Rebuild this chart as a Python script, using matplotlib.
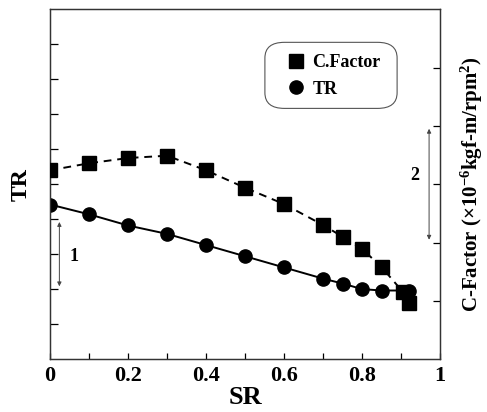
import matplotlib.pyplot as plt
from matplotlib.lines import Line2D
from matplotlib.patches import FancyBboxPatch

plt.rcParams['font.family'] = ['Liberation Serif', 'DejaVu Serif']
plt.rcParams['font.weight'] = 'bold'
plt.rcParams['mathtext.fontset'] = 'custom'
plt.rcParams['mathtext.rm'] = 'Liberation Serif:bold'
plt.rcParams['mathtext.it'] = 'Liberation Serif:bold'
plt.rcParams['mathtext.bf'] = 'Liberation Serif:bold'

# data
sr_tr = [0, 0.1, 0.2, 0.3, 0.4, 0.5, 0.6, 0.7, 0.75, 0.8, 0.85, 0.92]
tr = [2.21, 2.07, 1.91, 1.79, 1.63, 1.47, 1.31, 1.15, 1.08, 1.0, 0.98, 0.98]
sr_cf = [0, 0.1, 0.2, 0.3, 0.4, 0.5, 0.6, 0.7, 0.75, 0.8, 0.85, 0.905, 0.92]
cfactor = [3.24, 3.36, 3.45, 3.49, 3.24, 2.94, 2.66, 2.30, 2.10, 1.89, 1.58, 1.15, 0.96]
xtick_labels = ["0", "", "0.2", "", "0.4", "", "0.6", "", "0.8", "", "1"]

fig = plt.figure(figsize=(4.87, 4.12), dpi=100)
ax = fig.add_axes([0.1027, 0.1286, 0.8008, 0.8484])
ax2 = ax.twinx()

ax.plot(sr_tr, tr, "k-", lw=1.4, marker="o", ms=9.5, zorder=3)
ax2.plot(sr_cf, cfactor, "k", ls=(0, (4, 3)), lw=1.4, marker="s", ms=9.5, zorder=3)

ax.set_xlim(0, 1)
ax.set_ylim(0, 5)
ax2.set_ylim(0, 6)

ax.set_xticks([i / 10 for i in range(11)])
ax.set_xticklabels(xtick_labels, fontsize=16, fontweight="bold")
ax.set_yticks([0.5 * k for k in range(1, 10)])
ax.set_yticklabels([])
ax2.set_yticks([1, 2, 3, 4, 5])
ax2.set_yticklabels([])

ax.tick_params(axis="x", direction="in", length=4, width=0.9, pad=5)
ax.tick_params(axis="y", direction="in", length=6, width=0.9)
ax2.tick_params(axis="y", direction="in", length=5, width=0.9)
for a in (ax, ax2):
    for s in a.spines.values():
        s.set_linewidth(0.9)
        s.set_color("#333333")

ax.set_xlabel("SR", fontsize=19, fontweight="bold", labelpad=0)
ax.set_ylabel("TR", fontsize=17, fontweight="bold", labelpad=10)
ax2.set_ylabel("C-Factor (×10$^{-6}$kgf-m/rpm$^2$)", fontsize=15, fontweight="bold", labelpad=10)

# scale arrows
ax.annotate("", xy=(0.024, 1.0), xytext=(0.024, 2.0),
            arrowprops=dict(arrowstyle="<|-|>", color="#444444", lw=0.7, mutation_scale=6))
ax.text(0.062, 1.46, "1", fontsize=13, fontweight="bold", ha="center", va="center")
ax2.annotate("", xy=(0.972, 2.0), xytext=(0.972, 4.0),
             arrowprops=dict(arrowstyle="<|-|>", color="#444444", lw=0.7, mutation_scale=6))
ax2.text(0.936, 3.15, "2", fontsize=13, fontweight="bold", ha="center", va="center")

# legend box
box = FancyBboxPatch((0.551, 0.717), 0.339, 0.189, transform=ax2.transAxes,
                     boxstyle="round,pad=0,rounding_size=0.05", fc="white",
                     ec="#555555", lw=0.8, zorder=4, mutation_aspect=350 / 390)
ax2.add_patch(box)
handles = [Line2D([], [], color="k", marker="s", ls="none", ms=9.5),
           Line2D([], [], color="k", marker="o", ls="none", ms=9.5)]
leg = ax2.legend(handles, ["C.Factor", "TR"], loc="upper left", bbox_to_anchor=(0.608, 0.873),
                 prop={"size": 13, "weight": "bold"}, handletextpad=0.4, handlelength=1.0,
                 borderpad=0, labelspacing=0.55, borderaxespad=0, frameon=False)
leg.set_zorder(5)

plt.savefig("out.png", dpi=100)
